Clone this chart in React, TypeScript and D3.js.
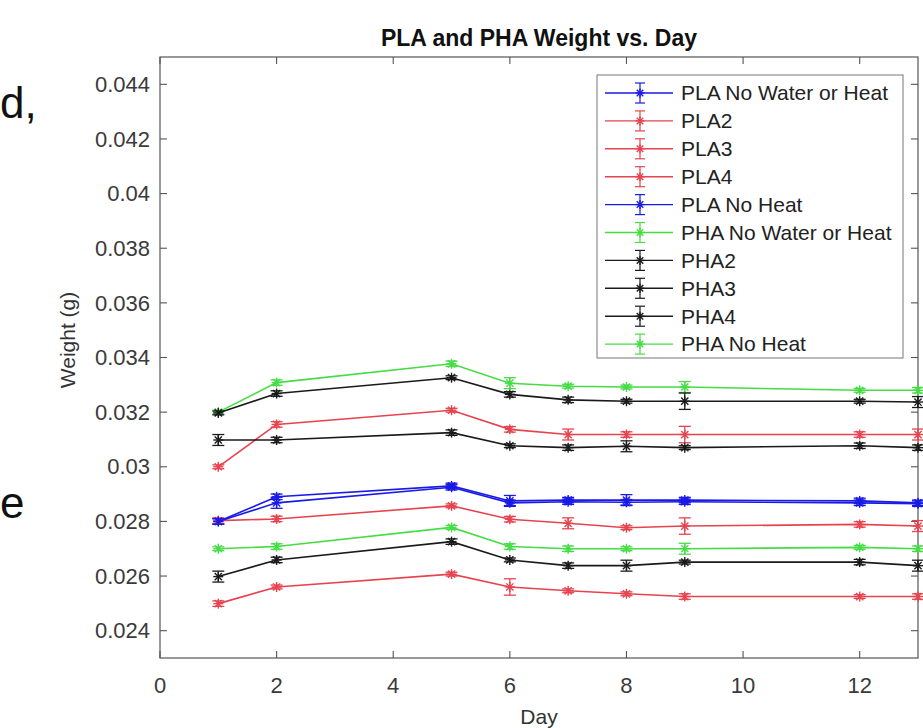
import React from "react";
import * as d3 from "d3";

const days = [1, 2, 5, 6, 7, 8, 9, 12, 13];
const seriesNames = [
  "PLA No Water or Heat",
  "PLA2",
  "PLA3",
  "PLA4",
  "PLA No Heat",
  "PHA No Water or Heat",
  "PHA2",
  "PHA3",
  "PHA4",
  "PHA No Heat",
];
const seriesColors = [
  "#1a1ae6", "#e6434f", "#e6434f", "#e6434f", "#1a1ae6",
  "#45dc45", "#1a1a1a", "#1a1a1a", "#1a1a1a", "#45dc45",
];
const plaNoWaterOrHeat = [0.0280, 0.0289, 0.0293, 0.02875, 0.02878, 0.02878, 0.02878, 0.02875, 0.02868];
const pla2 = [0.0300, 0.03155, 0.03207, 0.03137, 0.03118, 0.03118, 0.03118, 0.03118, 0.03118];
const pla3 = [0.02803, 0.02809, 0.02857, 0.02808, 0.02793, 0.02777, 0.02783, 0.02789, 0.02783];
const pla4 = [0.02499, 0.0256, 0.02607, 0.0256, 0.02546, 0.02535, 0.02525, 0.02525, 0.02525];
const plaNoHeat = [0.0280, 0.02868, 0.02925, 0.02868, 0.02872, 0.0287, 0.02872, 0.02868, 0.02865];
const phaNoWaterOrHeat = [0.0320, 0.03308, 0.03377, 0.03306, 0.03295, 0.03292, 0.03292, 0.0328, 0.0328];
const pha2 = [0.03197, 0.03268, 0.03326, 0.03265, 0.03245, 0.0324, 0.0324, 0.0324, 0.03237];
const pha3 = [0.03098, 0.03098, 0.03125, 0.03077, 0.0307, 0.03075, 0.0307, 0.03077, 0.0307];
const pha4 = [0.02598, 0.02659, 0.02726, 0.02659, 0.02638, 0.02638, 0.02651, 0.02651, 0.02638];
const phaNoHeat = [0.0270, 0.02708, 0.02778, 0.02708, 0.027, 0.027, 0.027, 0.02705, 0.027];

const errPlaNoWaterOrHeat = [0.0001, 0.0001, 0.0001, 0.0002, 0.0001, 0.0002, 0.0001, 0.0001, 0.0001];
const errPla2 = [0.00007, 0.0001, 0.00007, 0.0001, 0.0002, 0.0001, 0.0003, 0.0001, 0.0002];
const errPla3 = [0.0001, 0.0001, 0.00007, 0.0001, 0.0002, 0.00007, 0.0003, 0.0001, 0.0002];
const errPla4 = [0.0001, 0.00007, 0.00007, 0.0003, 0.00007, 0.00007, 0.0001, 0.00007, 0.0001];
const errPlaNoHeat = [0.0001, 0.0002, 0.0001, 0.0001, 0.0001, 0.0001, 0.0001, 0.0001, 0.0001];
const errPhaNoWaterOrHeat = [0.00007, 0.0001, 0.0001, 0.0002, 0.00007, 0.00007, 0.0002, 0.00007, 0.0001];
const errPha2 = [0.00007, 0.0001, 0.00007, 0.0001, 0.0001, 0.00007, 0.0003, 0.00007, 0.0002];
const errPha3 = [0.0002, 0.0001, 0.0001, 0.00007, 0.0001, 0.0002, 0.00007, 0.0001, 0.0001];
const errPha4 = [0.0002, 0.0001, 0.0001, 0.00007, 0.0001, 0.0002, 0.00007, 0.0001, 0.0002];
const errPhaNoHeat = [0.00007, 0.0001, 0.00007, 0.0001, 0.0001, 0.00007, 0.0002, 0.00007, 0.0001];

const seriesValues = [plaNoWaterOrHeat, pla2, pla3, pla4, plaNoHeat, phaNoWaterOrHeat, pha2, pha3, pha4, phaNoHeat];
const seriesErrors = [errPlaNoWaterOrHeat, errPla2, errPla3, errPla4, errPlaNoHeat, errPhaNoWaterOrHeat, errPha2, errPha3, errPha4, errPhaNoHeat];

const xTicks = [0, 2, 4, 6, 8, 10, 12];
const yTicks = [0.024, 0.026, 0.028, 0.03, 0.032, 0.034, 0.036, 0.038, 0.04, 0.042, 0.044];
const yTickLabels = ["0.024", "0.026", "0.028", "0.03", "0.032", "0.034", "0.036", "0.038", "0.04", "0.042", "0.044"];

const W = 923;
const H = 728;
const left = 160, right = 918, top = 57, bottom = 658;
const FONT = "'Liberation Sans', Arial, Helvetica, sans-serif";

function Asterisk({ cx, cy, r, color }: { cx: number; cy: number; r: number; color: string }) {
  const d = r * 0.72;
  return (
    <g stroke={color} strokeWidth={1.4}>
      <line x1={cx - r} y1={cy} x2={cx + r} y2={cy} />
      <line x1={cx} y1={cy - r} x2={cx} y2={cy + r} />
      <line x1={cx - d} y1={cy - d} x2={cx + d} y2={cy + d} />
      <line x1={cx - d} y1={cy + d} x2={cx + d} y2={cy - d} />
    </g>
  );
}

export default function App() {
  const x = d3.scaleLinear().domain([0, 13]).range([left, right]);
  const y = d3.scaleLinear().domain([0.023, 0.045]).range([bottom, top]);
  const line = d3.line<number>().x((_, i) => x(days[i])).y((v) => y(v));
  const cap = 6;
  const tick = 7;

  const legX = 597, legY = 75, legW = 306, legH = 283;
  const rowH = 27.9;

  return (
    <div style={{ position: "absolute", left: 0, top: 0 }}>
      <svg width={W} height={H} style={{ display: "block", background: "#fff" }}>
        <text x={0} y={118} fontFamily={FONT} fontSize={44} fill="#111">d,</text>
        <text x={0} y={518} fontFamily={FONT} fontSize={44} fill="#111">e</text>

        {/* plot box */}
        <rect x={left} y={top} width={right - left} height={bottom - top} fill="#fff" stroke="#555" strokeWidth={1.2} />
        {xTicks.map((t) => (
          <g key={"xt" + t} stroke="#555" strokeWidth={1.1}>
            <line x1={x(t)} x2={x(t)} y1={bottom} y2={bottom - tick} />
            <line x1={x(t)} x2={x(t)} y1={top} y2={top + tick} />
          </g>
        ))}
        {yTicks.map((t) => (
          <g key={"yt" + t} stroke="#555" strokeWidth={1.1}>
            <line x1={left} x2={left + tick} y1={y(t)} y2={y(t)} />
            <line x1={right} x2={right - tick} y1={y(t)} y2={y(t)} />
          </g>
        ))}
        {xTicks.map((t) => (
          <text key={"xl" + t} x={x(t)} y={bottom + 35} textAnchor="middle" fontFamily={FONT} fontSize={22} fill="#3a3a3a">
            {t}
          </text>
        ))}
        {yTicks.map((t, i) => (
          <text key={"yl" + t} x={left - 10} y={y(t)} dy="0.35em" textAnchor="end" fontFamily={FONT} fontSize={22} fill="#3a3a3a">
            {yTickLabels[i]}
          </text>
        ))}
        <text x={(left + right) / 2} y={46} textAnchor="middle" fontFamily={FONT} fontSize={23} fontWeight="bold" fill="#111">
          PLA and PHA Weight vs. Day
        </text>
        <text x={(left + right) / 2} y={724} textAnchor="middle" fontFamily={FONT} fontSize={21} fill="#333">
          Day
        </text>
        <text transform={`translate(75, 340) rotate(-90)`} textAnchor="middle" fontFamily={FONT} fontSize={21} fill="#333">
          Weight (g)
        </text>

        {/* series */}
        {seriesValues.map((vals, si) => {
          const c = seriesColors[si];
          const errs = seriesErrors[si];
          return (
            <g key={"s" + si}>
              <path d={line(vals) || ""} fill="none" stroke={c} strokeWidth={1.6} />
              {vals.map((v, i) => {
                const px = x(days[i]);
                const y1 = y(v - errs[i]);
                const y2 = y(v + errs[i]);
                return (
                  <g key={i}>
                    <g stroke={c} strokeWidth={1.3}>
                      <line x1={px} x2={px} y1={y1} y2={y2} />
                      <line x1={px - cap} x2={px + cap} y1={y1} y2={y1} />
                      <line x1={px - cap} x2={px + cap} y1={y2} y2={y2} />
                    </g>
                    <Asterisk cx={px} cy={y(v)} r={5} color={c} />
                  </g>
                );
              })}
            </g>
          );
        })}

        {/* legend */}
        <rect x={legX} y={legY} width={legW} height={legH} fill="#fff" stroke="#777" strokeWidth={1} />
        {seriesNames.map((name, i) => {
          const cy = legY + 18 + i * rowH;
          const c = seriesColors[i];
          return (
            <g key={"lg" + i}>
              <line x1={legX + 8} x2={legX + 76} y1={cy} y2={cy} stroke={c} strokeWidth={1.4} />
              <g stroke={c} strokeWidth={1.2}>
                <line x1={legX + 43} x2={legX + 43} y1={cy - 10} y2={cy + 10} />
                <line x1={legX + 38} x2={legX + 48} y1={cy - 10} y2={cy - 10} />
                <line x1={legX + 38} x2={legX + 48} y1={cy + 10} y2={cy + 10} />
              </g>
              <Asterisk cx={legX + 43} cy={cy} r={4.5} color={c} />
              <text x={legX + 84} y={cy} dy="0.35em" fontFamily={FONT} fontSize={21} fill="#222">
                {name}
              </text>
            </g>
          );
        })}
      </svg>
    </div>
  );
}
